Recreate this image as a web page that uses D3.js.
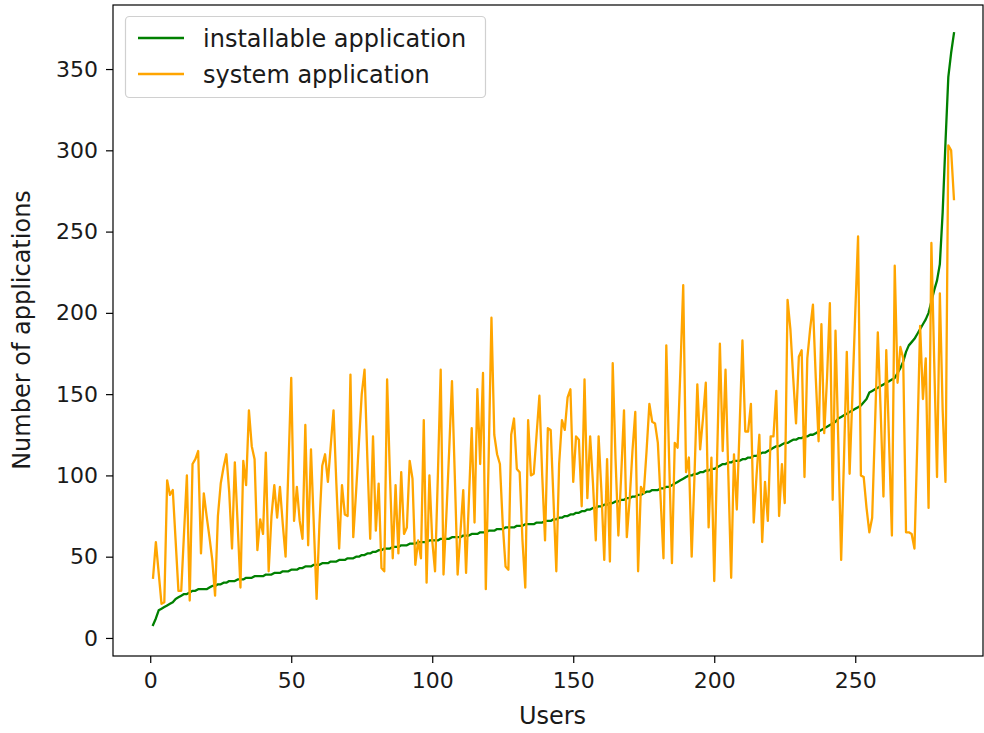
<!DOCTYPE html>
<html>
<head>
<meta charset="utf-8">
<script src="https://cdn.jsdelivr.net/npm/d3@7"></script>
<style>
html,body{margin:0;padding:0;background:#fff;}
svg{display:block;}
text{font-family:"DejaVu Sans",sans-serif;fill:#1a1a1a;}
</style>
</head>
<body>
<svg id="chart" width="984" height="733"></svg>
<script>
// installable applications per user (sorted), users 1..285
const installable = [
8,12,17,18,19,20,21,22,24,25,
26,27,27,28,29,29,30,30,30,30,
31,32,32,33,33,34,34,35,35,35,
36,36,36,37,37,37,38,38,38,38,
39,39,39,40,40,40,41,41,41,42,
42,42,43,43,44,44,44,45,45,45,
46,46,46,47,47,47,48,48,48,49,
49,49,50,50,51,51,52,52,53,53,
54,54,55,55,55,56,56,56,57,57,
57,58,58,58,59,59,59,59,60,60,
60,60,61,61,61,61,62,62,62,62,
63,63,63,64,64,64,65,65,65,66,
66,66,67,67,67,68,68,68,68,69,
69,69,70,70,70,70,71,71,71,72,
72,72,73,73,74,74,75,75,76,76,
77,77,78,78,79,79,80,80,81,81,
82,82,83,83,84,84,85,85,86,86,
87,87,88,88,89,90,90,91,91,91,
92,92,93,93,94,95,96,97,98,99,
100,100,101,101,102,102,103,103,104,104,
105,106,107,107,108,108,109,109,109,110,
110,111,111,112,112,113,114,114,115,116,
117,118,118,119,120,120,121,122,122,123,
123,124,124,125,125,126,127,128,129,130,
131,132,133,135,136,137,138,139,140,141,
142,143,145,147,151,152,153,154,155,156,
157,158,159,160,163,166,170,176,180,182,
184,187,190,193,196,200,207,214,220,230,
262,305,345,360,372
];
// system applications per user, same order
const system = [
37,59,40,21,22,97,88,91,60,29,
29,65,100,23,107,110,115,52,89,75,
62,48,26,75,95,105,113,90,55,108,
70,31,109,94,140,118,110,54,73,64,
114,41,75,94,74,93,70,50,105,160,
72,93,72,61,131,57,116,70,24,70,
106,113,96,118,140,95,55,94,76,75,
162,62,90,120,150,165,110,61,124,66,
95,43,41,159,100,49,94,52,102,64,
68,109,98,45,60,49,134,34,100,60,
41,100,165,39,75,115,158,100,39,65,
91,40,85,129,71,153,107,163,30,110,
197,125,113,107,70,44,42,125,135,104,
102,60,31,134,100,101,125,149,100,60,
129,128,85,41,107,134,128,148,153,96,
124,122,81,159,86,124,95,60,124,90,
48,110,47,169,110,63,100,140,62,85,
115,139,41,93,89,115,144,133,132,120,
85,49,180,110,46,120,117,165,217,102,
111,50,100,156,116,135,157,68,111,35,
110,181,115,165,100,37,113,79,130,183,
127,127,144,71,100,125,59,96,72,124,
124,152,75,107,83,208,190,160,132,173,
177,99,172,190,205,160,121,193,126,160,
206,85,189,120,48,110,176,101,150,200,
247,100,99,80,65,74,130,188,140,87,
177,120,63,229,157,179,172,65,65,64,
55,120,192,147,172,80,243,170,99,212,
140,96,303,300,270
];
const users = installable.map((_, i) => i + 1);
const xTicks = [0, 50, 100, 150, 200, 250];
const yTicks = [0, 50, 100, 150, 200, 250, 300, 350];
const seriesNames = ["installable application", "system application"];
const seriesColors = ["green", "orange"];
const xLabel = "Users";
const yLabel = "Number of applications";

const svg = d3.select("#chart");
const L = 113, R = 983, T = 5, B = 656;
const x = d3.scaleLinear().domain([-13.2, 295.3]).range([L, R]);
const y = d3.scaleLinear().domain([-11.1, 389.4]).range([B, T]);

const tickFont = 22, labelFont = 24;

// x axis
const xAxis = svg.append("g").attr("transform", `translate(0,${B})`)
  .call(d3.axisBottom(x).tickValues(xTicks).tickSize(7).tickPadding(9).tickFormat(d3.format("d")));
xAxis.select(".domain").remove();
xAxis.selectAll("line").attr("stroke", "#000").attr("stroke-width", 1.2);
xAxis.selectAll("text").attr("font-size", tickFont).attr("fill", "#1a1a1a").attr("font-family", "DejaVu Sans");

// y axis
const yAxis = svg.append("g").attr("transform", `translate(${L},0)`)
  .call(d3.axisLeft(y).tickValues(yTicks).tickSize(7).tickPadding(8).tickFormat(d3.format("d")));
yAxis.select(".domain").remove();
yAxis.selectAll("line").attr("stroke", "#000").attr("stroke-width", 1.2);
yAxis.selectAll("text").attr("font-size", tickFont).attr("fill", "#1a1a1a").attr("font-family", "DejaVu Sans");

// clip
svg.append("clipPath").attr("id", "clip").append("rect")
  .attr("x", L).attr("y", T).attr("width", R - L).attr("height", B - T);

const line = d3.line().x((d, i) => x(users[i])).y(d => y(d));
const plot = svg.append("g").attr("clip-path", "url(#clip)");
[installable, system].forEach((s, k) => {
  plot.append("path").datum(s).attr("d", line)
    .attr("fill", "none").attr("stroke", seriesColors[k])
    .attr("stroke-width", 2.3).attr("stroke-linejoin", "round").attr("stroke-linecap", "square");
});

// frame
svg.append("rect").attr("x", L).attr("y", T).attr("width", R - L).attr("height", B - T)
  .attr("fill", "none").attr("stroke", "#000").attr("stroke-width", 1.2);

// axis labels
svg.append("text").attr("x", (150 + 955) / 2).attr("y", 724).attr("text-anchor", "middle")
  .attr("font-size", labelFont).text(xLabel);
svg.append("text").attr("transform", `translate(30,${330}) rotate(-90)`).attr("text-anchor", "middle")
  .attr("font-size", labelFont).text(yLabel);

// legend
const lg = svg.append("g");
lg.append("rect").attr("x", 125.5).attr("y", 16.5).attr("width", 360).attr("height", 81)
  .attr("rx", 4).attr("fill", "#fff").attr("fill-opacity", 0.8).attr("stroke", "#d0d0d0").attr("stroke-width", 1.2);
seriesNames.forEach((n, k) => {
  const cy = 38 + k * 36;
  lg.append("line").attr("x1", 138).attr("x2", 184).attr("y1", cy).attr("y2", cy)
    .attr("stroke", seriesColors[k]).attr("stroke-width", 2.3);
  lg.append("text").attr("x", 203).attr("y", cy).attr("dy", "0.36em").attr("font-size", labelFont).text(n);
});
</script>
</body>
</html>
